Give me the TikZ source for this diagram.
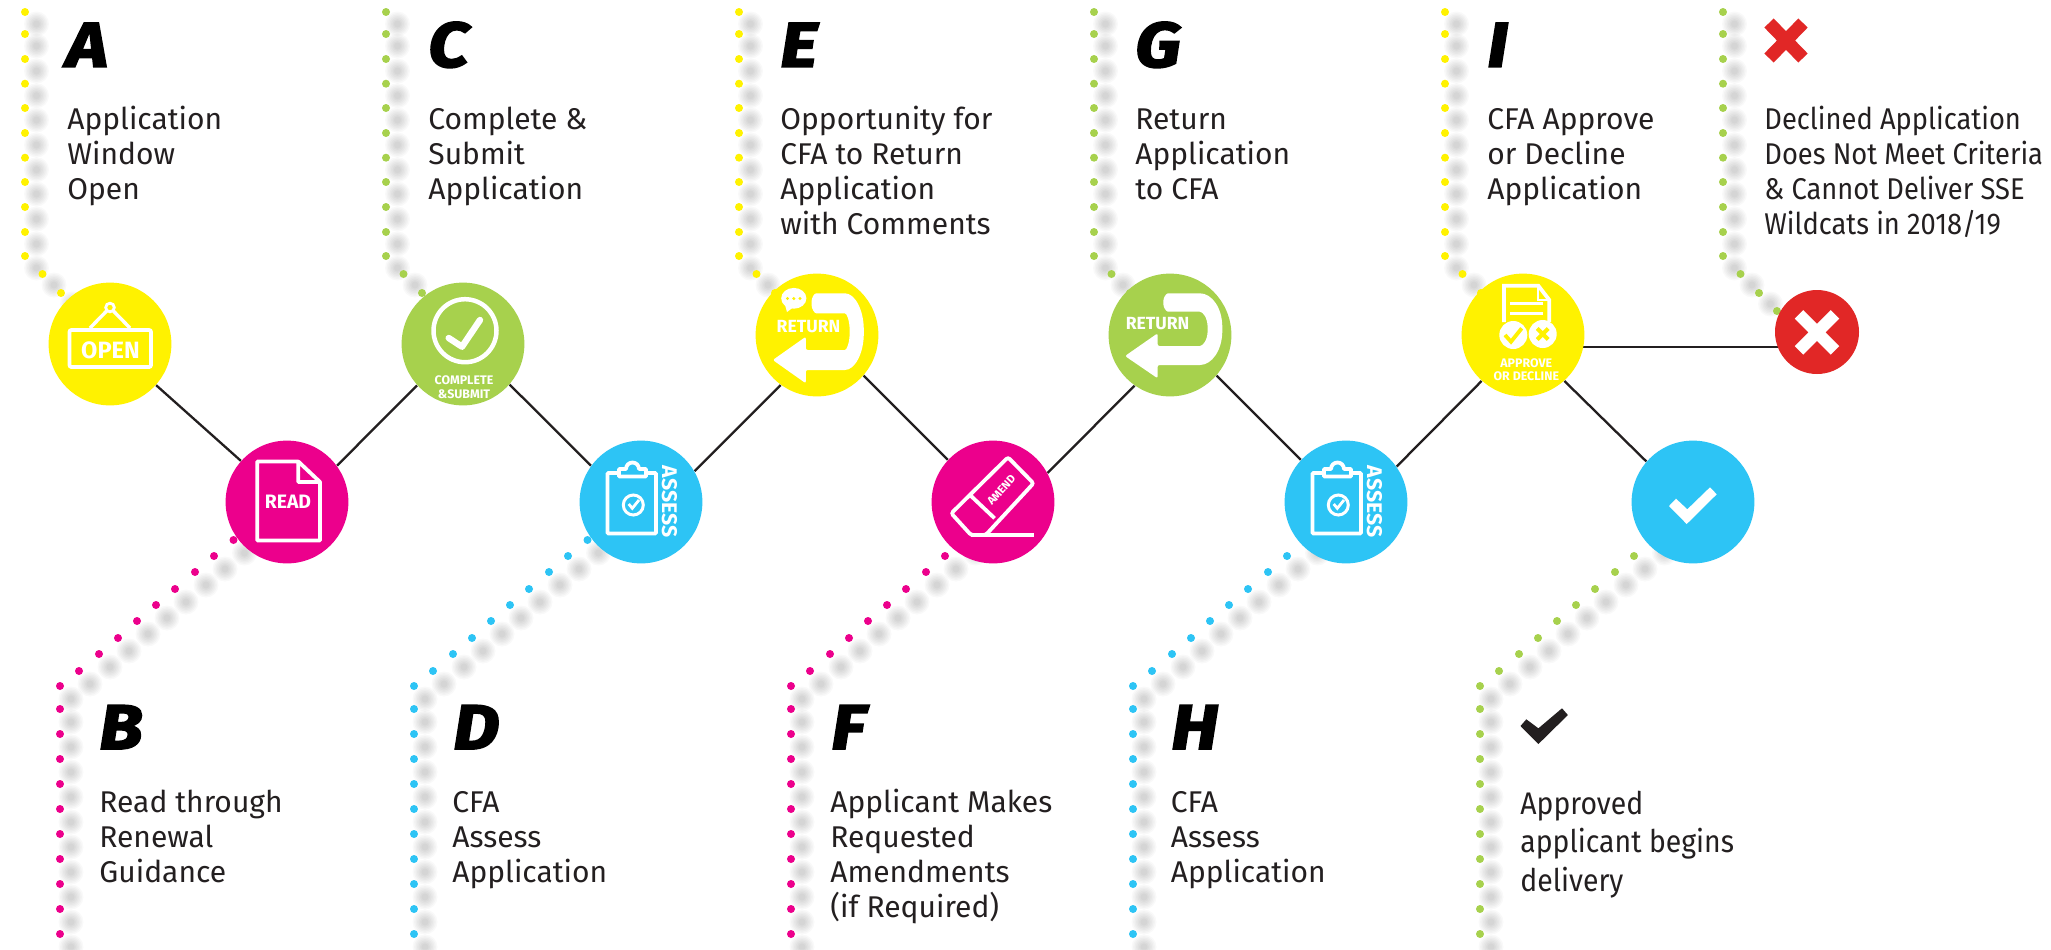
\documentclass[tikz,border=0pt]{standalone}
\usepackage{fontspec}
\usetikzlibrary{backgrounds,calc}
\setmainfont{Fira Sans}
\newfontfamily\headf{Fira Sans}[BoldItalicFeatures={FakeBold=3,FakeStretch=1.13}]
\newfontfamily\tightf{Fira Sans}[FakeStretch=0.91]
\newcommand\iconf{\bfseries}
\definecolor{kyel}{HTML}{FFF200}
\definecolor{kmag}{HTML}{EC008C}
\definecolor{kblu}{HTML}{2DC4F5}
\definecolor{kgrn}{HTML}{A7D14D}
\definecolor{kred}{HTML}{E12726}
\definecolor{ink}{HTML}{231F20}
\tikzset{
  disc/.style={circle,inner sep=0pt,minimum size=61.4pt,draw=none},
  small disc/.style={circle,inner sep=0pt,minimum size=42pt,draw=none},
  link/.style={draw=ink,line width=1.15pt},
  head/.style={anchor=base west,inner sep=0pt,font=\headf\bfseries\itshape\fontsize{31.5pt}{32pt}\selectfont,text=black},
  body/.style={anchor=base west,inner sep=0pt,align=left,text=ink,font=\fontsize{15pt}{17.5pt}\selectfont},
  icontext/.style={inner sep=0pt,text=white,align=center},
  iconline/.style={draw=white,line width=1.9pt},
  blobstyle/.style={fill=black,fill opacity=.022}
}
\newcommand\blobat[2]{\foreach \r in {12.5,11,9.5,8,6.5,5,3.5}{\fill[blobstyle] (#1,#2) circle[radius=\r];}}
% #1 x of the vertical part, #2 colour, #3 diagonal dots
\newcommand\topleader[3]{%
  \foreach \y in {12,34,59,83.7,108,133,157.7,182,207,232,256}{\blobat{#1+11.5}{\y+12}}
  \foreach \d/\y in {#3}{\blobat{#1+\d+11.5}{\y+11}}
  \foreach \y in {12,34,59,83.7,108,133,157.7,182,207,232,256}{\fill[#2] (#1,\y) circle[radius=4];}
  \foreach \d/\y in {#3}{\fill[#2] (#1+\d,\y) circle[radius=4];}
}
\newcommand\lowleader[2]{%
  \foreach \y in {686,709,734,759,784,809,834,859,884,909,934}{\blobat{#1+11}{\y+13}}
  \foreach \d/\y in {19/671,39/654,58/638,77/621,96/605,115/589,135/572,154/556,173.5/540}{\blobat{#1+\d+11}{\y+13}}
  \foreach \y in {686,709,734,759,784,809,834,859,884,909,934}{\fill[#2] (#1,\y) circle[radius=4];}
  \foreach \d/\y in {19/671,39/654,58/638,77/621,96/605,115/589,135/572,154/556,173.5/540}{\fill[#2] (#1+\d,\y) circle[radius=4];}
}
\newcommand\clipboard[1]{%
  \begin{scope}[xshift=#1*0.5pt]
  \draw[iconline,rounded corners=.5pt] (607.5,473) rectangle (656,533.5);
  \draw[iconline,fill=kblu,line join=round] (619,476.5) -- (619,469) -- (626,469) arc[start angle=180,end angle=360,radius=6.5] -- (646,469) -- (646,476.5) -- cycle;
  \draw[white,line width=1.5pt] (633.3,505) circle[radius=10];
  \draw[white,line width=1.4pt] (628.7,504) -- (632.3,508.3) -- (639,500);
  \node[icontext,rotate=-90,font=\iconf\fontsize{10.6pt}{11pt}\selectfont] (assess#1) at (669.5,501.5) {ASSESS};
  \end{scope}
}
\begin{document}
\begin{tikzpicture}[x=.5pt,y=-.5pt]
\useasboundingbox (0,0) rectangle (2051,949);
% nodes
\node[disc,fill=kyel] (A) at (110,344) {};
\node[disc,fill=kmag] (B) at (287,502) {};
\node[disc,fill=kgrn] (C) at (463,344) {};
\node[disc,fill=kblu] (D) at (641,502) {};
\node[disc,fill=kyel] (E) at (817,335) {};
\node[disc,fill=kmag] (F) at (993,502) {};
\node[disc,fill=kgrn] (G) at (1170,335) {};
\node[disc,fill=kblu] (H) at (1346,502) {};
\node[disc,fill=kyel] (I) at (1523,335) {};
\node[disc,fill=kblu] (J) at (1693,502) {};
\node[small disc,fill=kred] (K) at (1817,332) {};
\begin{pgfonlayer}{background}
\fill[white] (0,0) rectangle (2051,949);
\begin{scope}
\clip (0,0) rectangle (2051,949);
\topleader{25}{kyel}{17.5/274,36/293}
\topleader{386}{kgrn}{17.5/274,36/293}
\topleader{739}{kyel}{17.5/274,36/293}
\topleader{1094}{kgrn}{17.5/274,36/293}
\topleader{1445}{kyel}{17.5/274,36/293}
\topleader{1723}{kgrn}{17.5/274,36/293,54/311}
\lowleader{60}{kmag}
\lowleader{414}{kblu}
\lowleader{791}{kmag}
\lowleader{1133}{kblu}
\lowleader{1480}{kgrn}
\end{scope}
\draw[link] (A) -- (B);
\draw[link] (B.36.5) -- (C.222);
\draw[link] (C.319) -- (D.144.6);
\draw[link] (D.30) -- (E.234.8);
\draw[link] (E.319) -- (F.137.7);
\draw[link] (F.28.2) -- (G.235);
\draw[link] (G.319.3) -- (H.137.7);
\draw[link] (H.35.4) -- (I.228.8);
\draw[link] (I.312) -- (J.139.6);
\draw[link] ($(I.center)+(0,12)$) -- ($(K.center)+(0,15)$);
\end{pgfonlayer}
% OPEN icon
\draw[iconline,rounded corners=1pt] (69.5,330) rectangle (151,367);
\draw[white,line width=1.7pt] (90,328) -- (110,307.5) -- (130,328);
\draw[white,fill=kyel,line width=1.4pt] (110,307.5) circle[radius=4.3];
\node[icontext,font=\iconf\fontsize{11.8pt}{12pt}\selectfont] (open) at (110.5,350) {OPEN};
% READ icon
\draw[iconline,line join=round] (298.3,461.5) -- (257.3,461.5) -- (257.3,540.5) -- (320,540.5) -- (320,482) -- (298.3,461.5) -- (298.3,482) -- (320,482);
\node[icontext,font=\iconf\fontsize{9.7pt}{10pt}\selectfont] (read) at (288,502) {READ};
% COMPLETE icon
\draw[white,line width=2.25pt] (465,330.7) circle[radius=31.5];
\draw[white,line width=3.2pt,line cap=round,line join=round] (448.7,338) -- (462,346.7) -- (480,320);
\node[icontext,font=\iconf\fontsize{6.2pt}{7pt}\selectfont] (complete) at (464,387.5) {COMPLETE\\\&SUBMIT};
% RETURN (E)
\fill[white,rounded corners=1pt] (772.8,360) -- (805.8,336.7) -- (805.8,350) -- (842.9,350) .. controls (847,350) and (849.6,342) .. (849.6,331.7) .. controls (849.6,321) and (847,313.3) .. (842.9,313.3) -- (818.3,313.3) .. controls (814,313.3) and (811.6,308) .. (811.6,303.3) .. controls (811.6,298) and (814,293.3) .. (818.3,293.3) -- (842.9,293.3) .. controls (855,293.3) and (863.8,310) .. (863.8,331.7) .. controls (863.8,353) and (855,370) .. (842.9,370) -- (805.8,370) -- (805.8,383.3) -- cycle;
\node[icontext,text=white,font=\iconf\fontsize{8.8pt}{9pt}\selectfont] (ret1) at (808.5,326.5) {RETURN};
\fill[white] (793.8,298.3) ellipse[x radius=12.6,y radius=10.4];
\fill[white] (785,305) -- (787,312) -- (795,306) -- cycle;
\foreach \x in {787.5,793.8,800}{\fill[kyel] (\x,298.5) circle[radius=1.7];}
% RETURN (G)
\fill[white,rounded corners=1pt] (1125,356) -- (1157.6,333.3) -- (1157.6,346) -- (1197.8,346) .. controls (1203,346) and (1207.6,340) .. (1207.6,329) .. controls (1207.6,318) and (1203,311.7) .. (1197.8,311.7) -- (1170,311.7) .. controls (1166,311.7) and (1163.4,307) .. (1163.4,302.5) .. controls (1163.4,298) and (1166,293.3) .. (1170,293.3) -- (1197.8,293.3) .. controls (1212,293.3) and (1222.3,308) .. (1222.3,329) .. controls (1222.3,350) and (1212,365) .. (1197.8,365) -- (1157.6,365) -- (1157.6,378.3) -- cycle;
\node[icontext,font=\iconf\fontsize{8.8pt}{9pt}\selectfont] (ret2) at (1157.6,323.3) {RETURN};
% ASSESS icons
\clipboard{0}
\clipboard{705}
% AMEND icon
\draw[iconline,rounded corners=1.2pt] (985.7,535) -- (1033.5,483.3) -- (1008,457.3) -- (951.3,513.3) -- (971,535) -- cycle;
\draw[iconline] (971,535) -- (1033.5,535);
\draw[iconline] (970,495) -- (994.6,518.3);
\node[icontext,rotate=48,font=\iconf\fontsize{5.6pt}{6pt}\selectfont] (amend) at (1001.3,490) {AMEND};
% APPROVE icon
\draw[iconline] (1504,322) -- (1504,285.7) -- (1538.3,285.7) -- (1549.3,300) -- (1549.3,322);
\draw[white,line width=1pt] (1538.3,285.7) -- (1538.3,300) -- (1549.3,300);
\draw[white,line width=1.4pt] (1510,303.3) -- (1543.3,303.3) (1510,313.3) -- (1543.3,313.3);
\fill[white] (1513.3,335) circle[radius=14] (1542.7,334) circle[radius=14];
\draw[kyel,line width=1.9pt] (1505,335) -- (1511,341.7) -- (1521.7,328.3);
\draw[kyel,line width=2pt] (1537.2,328.5) -- (1548.2,339.5) (1548.2,328.5) -- (1537.2,339.5);
\node[icontext,font=\iconf\fontsize{6.2pt}{6.6pt}\selectfont] (approve) at (1526.3,369.5) {APPROVE\\OR DECLINE};
% approved tick
\fill[white] (1669,506) -- (1686.7,524) -- (1716.7,494.3) -- (1710,487.3) -- (1687.3,509.3) -- (1676,498.7) -- cycle;
% declined cross
\draw[white,line width=6pt] (1799,314.3) -- (1835,350.3) (1835,314.3) -- (1799,350.3);
% head letters and texts (a text's position is the baseline of its last line)
\node[head] (ha) at (66,66.7) {A};
\node[body] (ta) at (67,199.3) {Application\\Window\\Open};
\node[head] (hb) at (99,749) {B};
\node[body] (tb) at (99,882.5) {Read through\\Renewal\\Guidance};
\node[head] (hc) at (428,66.7) {C};
\node[body] (tc) at (428,199.3) {Complete \&\\Submit\\Application};
\node[head] (hd) at (453,749) {D};
\node[body] (td) at (452,882.5) {CFA\\Assess\\Application};
\node[head] (he) at (780,66.7) {E};
\node[body] (te) at (780,234.3) {Opportunity for\\CFA to Return\\Application\\with Comments};
\node[head] (hf) at (831,749) {F};
\node[body] (tf) at (830,917.5) {Applicant Makes\\Requested\\Amendments\\(if Required)};
\node[head] (hg) at (1135,66.7) {G};
\node[body] (tg) at (1135,199.3) {Return\\Application\\to CFA};
\node[head] (hh) at (1171,749) {H};
\node[body] (th) at (1170.5,882.5) {CFA\\Assess\\Application};
\node[head] (hi) at (1487,66.7) {I};
\node[body] (ti) at (1487,199.3) {CFA Approve\\or Decline\\Application};
\node[body,font=\tightf\fontsize{15pt}{17.5pt}\selectfont] (tk) at (1764,234.3) {Declined Application\\Does Not Meet Criteria\\\& Cannot Deliver SSE\\Wildcats in 2018/19};
\node[body,font=\tightf\fontsize{15.6pt}{19.25pt}\selectfont] (tj) at (1520,891) {Approved\\applicant begins\\delivery};
\draw[kred,line width=6.5pt] (1769,23) -- (1803,58) (1803,23) -- (1769,58);
\fill[ink] (1520.5,726) -- (1538.4,744) -- (1567.9,715) -- (1562,708.3) -- (1538.4,728.3) -- (1526.3,719.3) -- cycle;
\end{tikzpicture}
\end{document}
